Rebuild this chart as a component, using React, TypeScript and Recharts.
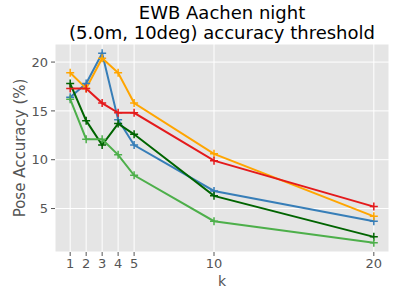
import React from "react";
import { LineChart, Line, XAxis, YAxis, CartesianGrid } from "recharts";

const kValues = [1, 2, 3, 4, 5, 10, 20];
const blue = [16.4, 17.8, 20.9, 14.1, 11.5, 6.8, 3.7];
const orange = [18.9, 17.3, 20.4, 18.9, 15.8, 10.6, 4.2];
const red = [17.3, 17.3, 15.8, 14.8, 14.8, 9.9, 5.2];
const darkGreen = [17.8, 14.0, 11.5, 13.7, 12.6, 6.3, 2.1];
const lightGreen = [16.2, 12.1, 12.1, 10.5, 8.4, 3.7, 1.5];
const xTicks = [1, 2, 3, 4, 5, 10, 20];
const yTicks = [5, 10, 15, 20];

const data = kValues.map((k, i) => ({
  k,
  blue: blue[i],
  orange: orange[i],
  red: red[i],
  darkGreen: darkGreen[i],
  lightGreen: lightGreen[i],
}));

const FONT = "'DejaVu Sans', sans-serif";

const plusDot = (color: string) => (props: any) => {
  const { cx, cy, index } = props;
  if (cx == null || cy == null) return null;
  return (
    <path
      key={`d-${index}`}
      d={`M${cx - 4},${cy} h8 M${cx},${cy - 4} v8`}
      stroke={color}
      strokeWidth={1.5}
      fill="none"
    />
  );
};

const series = [
  { key: "blue", color: "#377eb8" },
  { key: "orange", color: "#ffa500" },
  { key: "red", color: "#e41a1c" },
  { key: "darkGreen", color: "#006400" },
  { key: "lightGreen", color: "#4daf4a" },
];

export default function App() {
  return (
    <div style={{ position: "absolute", left: 0, top: 0, width: 400, height: 288, background: "#fff" }}>
      <LineChart
        width={400}
        height={288}
        data={data}
        margin={{ top: 44, right: 11, left: 0, bottom: 6 }}
      >
        <CartesianGrid fill="#E5E5E5" stroke="#ffffff" strokeWidth={1} />
        <XAxis
          dataKey="k"
          type="number"
          domain={[0.05, 20.95]}
          ticks={xTicks}
          height={30}
          axisLine={false}
          tickSize={4}
          tickMargin={3}
          tickLine={{ stroke: "#555555" }}
          tick={{ fill: "#555555", fontSize: 13, fontFamily: FONT }}
          allowDataOverflow
        />
        <YAxis
          type="number"
          domain={[0.55, 21.85]}
          ticks={yTicks}
          width={55}
          axisLine={false}
          tickSize={4}
          tickMargin={3}
          tickLine={{ stroke: "#555555" }}
          tick={{ fill: "#555555", fontSize: 13, fontFamily: FONT }}
          allowDataOverflow
        />
        {series.map((s) => (
          <Line
            key={s.key}
            dataKey={s.key}
            type="linear"
            stroke={s.color}
            strokeWidth={2}
            dot={plusDot(s.color)}
            activeDot={false}
            isAnimationActive={false}
          />
        ))}
      </LineChart>
      <svg
        width={400}
        height={288}
        style={{ position: "absolute", left: 0, top: 0, pointerEvents: "none" }}
      >
        <text x={222} y={19} textAnchor="middle" fontFamily={FONT} fontSize={18} fill="#000">
          EWB Aachen night
        </text>
        <text x={222} y={39} textAnchor="middle" fontFamily={FONT} fontSize={18} fill="#000">
          (5.0m, 10deg) accuracy threshold
        </text>
        <text x={222} y={286} textAnchor="middle" fontFamily={FONT} fontSize={14} fill="#555555">
          k
        </text>
        <text
          x={0}
          y={0}
          transform="translate(25,148) rotate(-90)"
          textAnchor="middle"
          fontFamily={FONT}
          fontSize={15}
          fill="#555555"
        >
          Pose Accuracy (%)
        </text>
      </svg>
    </div>
  );
}
